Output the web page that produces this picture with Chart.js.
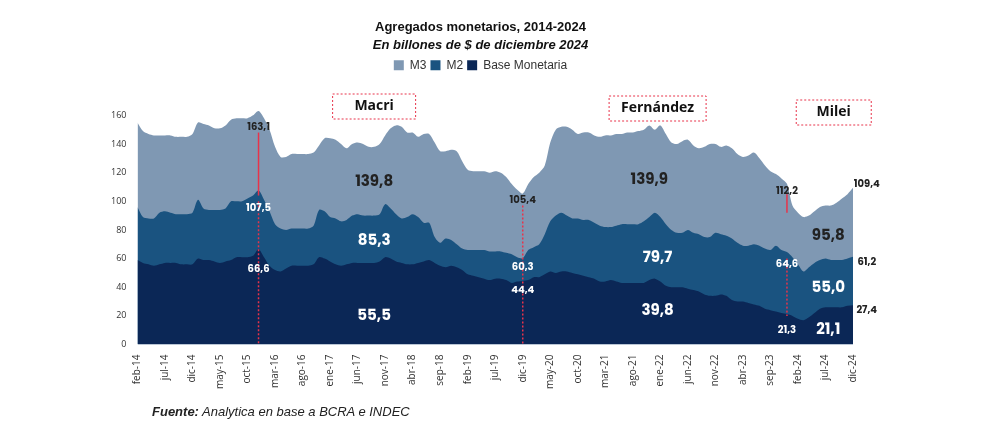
<!DOCTYPE html>
<html>
<head>
<meta charset="utf-8">
<script src="https://cdn.jsdelivr.net/npm/chart.js@4"></script>
<style>
  body { margin: 0; background: #fff; }
  #wrap { position: relative; width: 992px; height: 441px; }
  .fuente { position: absolute; left: 152px; top: 404px; font: italic 13px "Liberation Sans", Arial, sans-serif; color: #222; }
</style>
</head>
<body>
<div id="wrap">
  <canvas id="chart" width="992" height="441"></canvas>
  <div class="fuente"><b>Fuente:</b> Analytica en base a BCRA e INDEC</div>
</div>
<script>
// --- DATA ---
const meses = ['ene','feb','mar','abr','may','jun','jul','ago','sep','oct','nov','dic'];
const labels = [];
for (let y = 14; y <= 24; y++) {
    for (let m = 0; m < 12; m++) {
        if (y === 14 && m === 0) continue;
        labels.push(meses[m] + '-' + y);
    }
}

const m3 = [155,149,147,146,146,146,146,145,145,145,147,155,154,153,151,151,153,157,158,158,
            158,160,163.1,158,150,138,131,131,133,133,133,133,134,139,144,144,143,140,137,140,
            141,140,138,138,140,146,151,153,152,148,148,145,147,147,141,135,135,136,135,128,
            122,121,121,121,120,121,120,117,112,108,105.4,112,117,120,125,141,150,152,152,150,
            147,148,148,146,145,146,146,147,147,148,148,149,150,153,150,153,147,141,140,142,
            143,139,137,138,140,140,138,139,137,133,131,132,134,130,125,121,119,116,112.2,97,
            92,89,90,93,96,97,97,99,102,105,109.4];

const m2 = [96,89,88,88,92,93,92,91,91,91,92,101,95,94,94,94,95,100,100,100,
            102,104,107.5,101,93,84,81,80,81,81,81,81,83,94,93,89,88,86,87,90,
            91,90,90,90,91,98,95,91,88,89,91,89,85,85,75,71,74,73,70,67,
            66,66,66,66,65,65,65,64,63,61,60.3,66,68,70,77,86,90,92,90,88,
            88,87,87,85,83,82,82,83,84,84,84,84,86,89,92,89,84,80,78,78,
            80,78,77,75,75,78,77,76,74,71,69,69,70,69,67,66,69,66,64.6,61,
            56,51,54,57,59,60,59,59,59,60,61.2];

const base = [59,57,56,55,56,57,57,57,56,56,56,60,59,59,58,57,58,59,61,61,
              61,62,66.6,61,55,52,51,53,55,55,55,55,56,61,60,58,56,55,56,57,
              57,57,57,57,58,61,60,58,57,56,56,57,58,59,57,55,54,55,54,52,
              49,48,47,46,45,46,46,45,43,44,44.4,45,47,47,49,51,50,51,51,50,
              49,48,47,46,44,44,45,44,43,43,43,43,43,45,46,44,41,40,40,40,
              39,38,37,35,34,34,35,34,31,30,30,29,28,27,25,24,23,22,21.3,20,
              18,17,19,22,25,26,26,26,26,27,27.4];

// text labels inside the plot: [text, index, value, color, size]
const notas = [
    ['139,8', 43, 113.6, '#222', 15], ['85,3', 43, 72, '#fff', 15], ['55,5', 43, 19.4, '#fff', 15],
    ['139,9', 93, 115, '#222', 15], ['79,7', 94.5, 60, '#fff', 15], ['39,8', 94.5, 23.5, '#fff', 15],
    ['95,8', 125.5, 75.5, '#222', 15], ['55,0', 125.5, 39.5, '#fff', 15], ['21,1', 125.5, 10, '#fff', 15],
    ['163,1', 22, 151.6, '#222', 10], ['107,5', 22, 95, '#fff', 10], ['66,6', 22, 52.6, '#fff', 10],
    ['105,4', 70, 100.4, '#222', 10], ['60,3', 70, 54, '#fff', 10], ['44,4', 70, 37.4, '#fff', 10],
    ['112,2', 118, 106.6, '#222', 10], ['64,6', 118, 56, '#fff', 10], ['21,3', 118, 9.7, '#fff', 10],
    ['109,4', 132.5, 112, '#222', 10], ['61,2', 132.5, 57, '#222', 10], ['27,4', 132.5, 23.5, '#222', 10]
];

// red markers: [index, from, to, dashed]
const marcas = [
    [22, 148, 104, false], [22, 100, 0, true],
    [70, 97, 0, true],
    [118, 105, 92, false], [118, 60, 20, true]
];

// presidents: [name, centre index, top pixel, width]
const gobiernos = [['Macri', 43, 94, 83], ['Fernández', 94.5, 96, 97], ['Milei', 126.5, 100, 75]];

const notesPlugin = {
    id: 'notes',
    afterDatasetsDraw(chart) {
        const { ctx, scales: { x, y } } = chart;
        const px = i => x.getPixelForValue(0) + (x.getPixelForValue(1) - x.getPixelForValue(0)) * i;
        ctx.save();
        marcas.forEach(([i, a, b, d]) => {
            ctx.strokeStyle = '#e8334a';
            ctx.lineWidth = 1.5;
            ctx.setLineDash(d ? [2, 2] : []);
            ctx.beginPath();
            ctx.moveTo(px(i), y.getPixelForValue(a));
            ctx.lineTo(px(i), y.getPixelForValue(b));
            ctx.stroke();
        });
        ctx.setLineDash([]);
        ctx.textAlign = 'center';
        ctx.textBaseline = 'middle';
        notas.forEach(([t, i, v, c, s]) => {
            ctx.fillStyle = c;
            ctx.font = `bold ${s}px "Poppins", "Open Sans", sans-serif`;
            ctx.fillText(t, px(i), y.getPixelForValue(v));
        });
        gobiernos.forEach(([n, i, top, w]) => {
            const cx = px(i);
            ctx.strokeStyle = '#e8334a';
            ctx.lineWidth = 1;
            ctx.setLineDash([2, 2]);
            ctx.strokeRect(cx - w / 2, top, w, 25);
            ctx.setLineDash([]);
            ctx.fillStyle = '#111';
            ctx.font = 'bold 14px "Open Sans", sans-serif';
            ctx.fillText(n, cx, top + 12.5);
        });
        ctx.restore();
    }
};

// extra room under the legend, as in the reference
const legendGap = {
    id: 'legendGap',
    beforeInit(chart) {
        const fit = chart.legend.fit;
        chart.legend.fit = function () {
            fit.bind(chart.legend)();
            this.height += 27;
        };
    }
};

new Chart(document.getElementById('chart'), {
    type: 'line',
    data: {
        labels: labels,
        datasets: [
            { label: 'M3', data: m3, backgroundColor: '#7f98b3', borderWidth: 0, fill: 'origin', pointRadius: 0, tension: 0.3, order: 3 },
            { label: 'M2', data: m2, backgroundColor: '#1a5380', borderWidth: 0, fill: 'origin', pointRadius: 0, tension: 0.3, order: 2 },
            { label: 'Base Monetaria', data: base, backgroundColor: '#0b2756', borderWidth: 0, fill: 'origin', pointRadius: 0, tension: 0.3, order: 1 }
        ]
    },
    options: {
        responsive: false,
        animation: false,
        layout: { padding: { left: 108, right: 139, top: 0, bottom: 50 } },
        plugins: {
            title: { display: true, text: 'Agregados monetarios, 2014-2024', color: '#111', font: { size: 13, family: 'Liberation Sans' }, padding: { top: 20, bottom: 2 } },
            subtitle: { display: true, text: 'En billones de $ de diciembre 2024', color: '#111', font: { size: 13, style: 'italic', weight: 'bold', family: 'Liberation Sans' }, padding: { bottom: 2 } },
            legend: {
                display: true,
                labels: { boxWidth: 10, boxHeight: 10, padding: 4, color: '#333', font: { size: 12, family: 'Liberation Sans' },
                          sort: (a, b) => a.datasetIndex - b.datasetIndex }
            },
            tooltip: { enabled: false }
        },
        scales: {
            x: {
                grid: { display: false },
                border: { display: false },
                ticks: {
                    autoSkip: false, maxRotation: 90, minRotation: 90, color: '#333', padding: 2,
                    font: { size: 10, family: 'Open Sans' },
                    callback: (v, i) => i % 5 === 0 ? labels[i] : ''
                }
            },
            y: {
                min: 0, max: 165,
                afterBuildTicks: ax => { ax.ticks = [0,20,40,60,80,100,120,140,160].map(v => ({ value: v })); },
                grid: { display: false },
                border: { display: false },
                ticks: { color: '#333', font: { size: 9, family: 'Open Sans' } }
            }
        }
    },
    plugins: [notesPlugin, legendGap]
});
</script>
</body>
</html>
